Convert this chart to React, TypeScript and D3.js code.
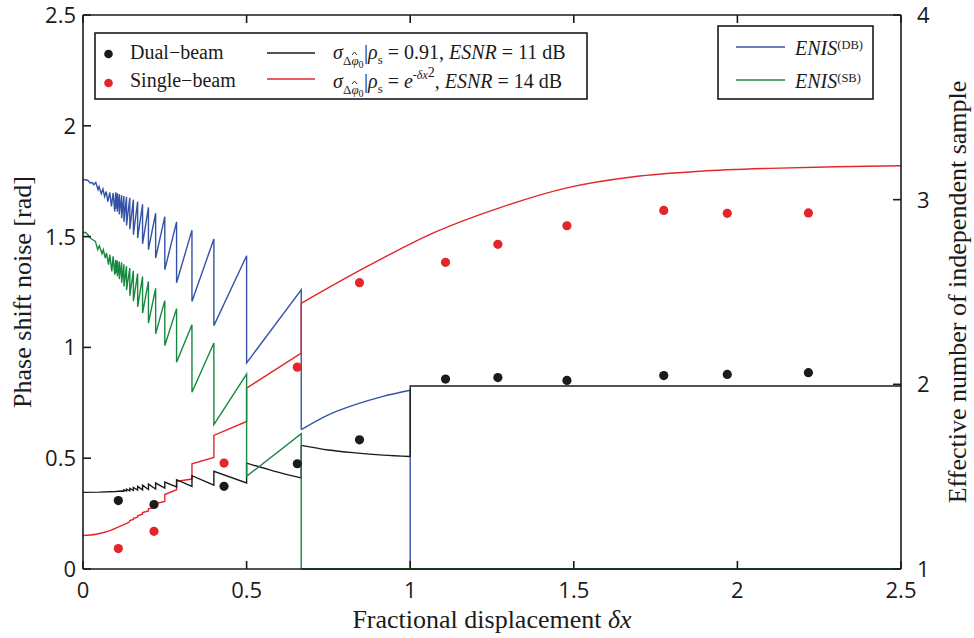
import React from "react";
import * as d3 from "d3";

// ---------- data ----------
const X_TICKS = [0, 0.5, 1, 1.5, 2, 2.5];
const X_TICK_LABELS = ["0", "0.5", "1", "1.5", "2", "2.5"];
const YL_TICKS = [0, 0.5, 1, 1.5, 2, 2.5];
const YL_TICK_LABELS = ["0", "0.5", "1", "1.5", "2", "2.5"];
const YR_TICKS = [1, 2, 3, 4];
const YR_TICK_LABELS = ["1", "2", "3", "4"];

// measured points (dots)
const DOT_X = [0.108, 0.217, 0.431, 0.655, 0.845, 1.108, 1.268, 1.479, 1.775, 1.969, 2.217];
const DUAL_DOTS = [0.309, 0.291, 0.373, 0.475, 0.583, 0.857, 0.864, 0.851, 0.873, 0.878, 0.886];
const SINGLE_DOTS = [0.092, 0.17, 0.478, 0.911, 1.292, 1.384, 1.465, 1.549, 1.618, 1.605, 1.607];

// theory, dual-beam (black), left axis
const BLACK_TEETH: [number, number][] = [
  [0, 0.346], [0.05, 0.347], [0.1, 0.35], [0.118, 0.352], [0.125, 0.351], [0.125, 0.357],
  [0.133, 0.352], [0.133, 0.36], [0.143, 0.353], [0.143, 0.364], [0.154, 0.355], [0.154, 0.368],
  [0.167, 0.356], [0.167, 0.373], [0.182, 0.357], [0.182, 0.378], [0.2, 0.359], [0.2, 0.383],
  [0.222, 0.361], [0.222, 0.388], [0.25, 0.365], [0.25, 0.392], [0.286, 0.37], [0.286, 0.403],
  [0.333, 0.373], [0.333, 0.421], [0.4, 0.378], [0.4, 0.441], [0.5, 0.388], [0.5, 0.478],
];
const BLACK_MID: [number, number][] = [[0.5, 0.478], [0.583, 0.442], [0.667, 0.411]];
const BLACK_JUMP: [number, number][] = [[0.667, 0.411], [0.667, 0.558]];
const BLACK_MID2: [number, number][] = [[0.667, 0.558], [0.75, 0.537], [0.832, 0.524], [0.917, 0.514], [1.0, 0.508]];
const BLACK_END: [number, number][] = [[1.0, 0.508], [1.0, 0.826], [2.5, 0.826]];

// theory, single-beam (red), left axis
const RED_LOW: [number, number][] = [[0, 0.151], [0.04, 0.157], [0.08, 0.172], [0.12, 0.197], [0.143, 0.213]];
const RED_STEPS: [number, number][] = [
  [0.143, 0.213], [0.143, 0.219], [0.154, 0.224], [0.154, 0.229], [0.167, 0.234], [0.167, 0.24],
  [0.182, 0.247], [0.182, 0.255], [0.2, 0.262], [0.2, 0.272], [0.222, 0.28], [0.222, 0.295],
  [0.25, 0.305], [0.25, 0.336], [0.286, 0.358], [0.286, 0.396], [0.333, 0.406], [0.333, 0.475],
  [0.4, 0.503], [0.4, 0.603], [0.5, 0.666], [0.5, 0.816], [0.667, 0.974], [0.667, 1.199],
];
const RED_HIGH: [number, number][] = [
  [0.667, 1.199], [0.867, 1.364], [1.071, 1.517], [1.275, 1.631], [1.479, 1.72],
  [1.683, 1.77], [1.887, 1.795], [2.1, 1.808], [2.3, 1.815], [2.5, 1.82],
];

// ENIS, right axis
const TOOTH_X = [0.1, 0.105, 0.111, 0.118, 0.125, 0.133, 0.143, 0.154, 0.167, 0.182, 0.2, 0.222, 0.25, 0.286, 0.333, 0.4, 0.5, 0.667];
const BLUE_PEAK = [3.04, 3.035, 3.03, 3.025, 3.02, 3.015, 3.01, 3.0, 2.99, 2.975, 2.958, 2.927, 2.908, 2.88, 2.835, 2.787, 2.696, 2.512];
const BLUE_TROUGH = [2.95, 2.935, 2.92, 2.9, 2.88, 2.86, 2.84, 2.81, 2.792, 2.761, 2.729, 2.684, 2.621, 2.55, 2.449, 2.318, 2.116, 1.755];
const GREEN_PEAK = [2.675, 2.67, 2.665, 2.66, 2.65, 2.64, 2.63, 2.615, 2.6, 2.584, 2.557, 2.52, 2.453, 2.41, 2.323, 2.224, 2.055, 1.733];
const GREEN_TROUGH = [2.6, 2.585, 2.57, 2.55, 2.53, 2.51, 2.48, 2.45, 2.42, 2.386, 2.332, 2.274, 2.21, 2.12, 1.957, 1.782, 1.502, 1.0];

const BLUE_NOISE: [number, number][] = [
  [0, 3.108], [0.008, 3.108], [0.015, 3.104], [0.022, 3.09], [0.028, 3.093], [0.033, 3.081],
  [0.039, 3.093], [0.046, 3.054], [0.049, 3.071], [0.056, 3.032], [0.061, 3.057], [0.066, 3.017],
  [0.071, 3.044], [0.076, 2.99], [0.082, 3.039], [0.087, 2.963], [0.092, 3.036], [0.097, 2.936],
];
const GREEN_NOISE: [number, number][] = [
  [0, 2.822], [0.008, 2.822], [0.015, 2.81], [0.022, 2.792], [0.03, 2.783], [0.038, 2.774],
  [0.045, 2.729], [0.05, 2.75], [0.058, 2.707], [0.062, 2.729], [0.068, 2.684], [0.072, 2.711],
  [0.078, 2.648], [0.082, 2.702], [0.088, 2.611], [0.092, 2.693], [0.097, 2.594],
];
const BLUE_TAIL: [number, number][] = [[0.667, 1.755], [0.75, 1.835], [0.832, 1.89], [0.917, 1.935], [1.0, 1.968]];
const BLUE_END: [number, number][] = [[1.0, 1.968], [1.0, 1.0], [2.5, 1.0]];
const GREEN_END: [number, number][] = [[0.667, 1.0], [2.5, 1.0]];

// ---------- layout ----------
const W = 974, H = 638;
const L = 83, R = 901, T = 15, B = 569;
const C_BLUE = "#3553a6", C_GREEN = "#16883f", C_RED = "#e3262a", C_BLACK = "#1b1b1b";
const SERIF = "'Liberation Serif', 'Times New Roman', serif";
const SANS = "'Open Sans', 'Noto Sans', sans-serif";

function teeth(noise: [number, number][], peak: number[], trough: number[]): [number, number][] {
  const pts: [number, number][] = [...noise];
  TOOTH_X.forEach((x, i) => {
    pts.push([x, peak[i]]);
    pts.push([x, trough[i]]);
  });
  return pts;
}

export default function App() {
  const x = d3.scaleLinear().domain([0, 2.5]).range([L, R]);
  const yL = d3.scaleLinear().domain([0, 2.5]).range([B, T]);
  const yR = d3.scaleLinear().domain([1, 4]).range([B, T]);

  const linL = d3.line<[number, number]>().x(d => x(d[0])).y(d => yL(d[1]));
  const smoothL = d3.line<[number, number]>().x(d => x(d[0])).y(d => yL(d[1])).curve(d3.curveMonotoneX);
  const linR = d3.line<[number, number]>().x(d => x(d[0])).y(d => yR(d[1]));
  const smoothR = d3.line<[number, number]>().x(d => x(d[0])).y(d => yR(d[1])).curve(d3.curveMonotoneX);

  const blue = teeth(BLUE_NOISE, BLUE_PEAK, BLUE_TROUGH);
  const green = teeth(GREEN_NOISE, GREEN_PEAK, GREEN_TROUGH);

  const lw = 1.4;
  const tick = 8;

  // sigma with subscript "Δφ̂0"; the hat is drawn as a small path
  const sigmaSub = (x0: number, yb: number) => (
    <>
      <text x={x0} y={yb} fontFamily={SERIF} fontSize={20} fontStyle="italic">σ</text>
      <text x={x0 + 10} y={yb + 6} fontFamily={SERIF} fontSize={13}>
        Δ<tspan fontStyle="italic">φ</tspan><tspan fontSize={10} y={yb + 9}>0</tspan>
      </text>
      <path
        d={`M${x0 + 19} ${yb - 4} L${x0 + 21.5} ${yb - 7} L${x0 + 24} ${yb - 4}`}
        fill="none" stroke="#1b1b1b" strokeWidth={0.9}
      />
    </>
  );

  return (
    <svg width={W} height={H} style={{ position: "fixed", left: 0, top: 0, background: "#fff" }}>
      <rect x={0} y={0} width={W} height={H} fill="#fff" />
      <defs>
        <clipPath id="plotclip">
          <rect x={L} y={T - 2} width={R - L} height={B - T + 3} />
        </clipPath>
      </defs>

      {/* curves */}
      <g clipPath="url(#plotclip)" fill="none" strokeWidth={lw} strokeLinejoin="miter">
        <path d={linR(blue)!} stroke={C_BLUE} />
        <path d={smoothR(BLUE_TAIL)!} stroke={C_BLUE} />
        <path d={linR(BLUE_END)!} stroke={C_BLUE} />
        <path d={smoothL(RED_LOW)!} stroke={C_RED} />
        <path d={linL(RED_STEPS)!} stroke={C_RED} />
        <path d={smoothL(RED_HIGH)!} stroke={C_RED} />
        <path d={linL(BLACK_TEETH)!} stroke={C_BLACK} />
        <path d={smoothL(BLACK_MID)!} stroke={C_BLACK} />
        <path d={linL(BLACK_JUMP)!} stroke={C_BLACK} />
        <path d={smoothL(BLACK_MID2)!} stroke={C_BLACK} />
        <path d={linL(BLACK_END)!} stroke={C_BLACK} />
        <path d={linR(green)!} stroke={C_GREEN} />
        <path d={linR(GREEN_END)!} stroke={C_GREEN} strokeWidth={2} />
      </g>

      {/* dots */}
      {DOT_X.map((dx, i) => (
        <circle key={"d" + i} cx={x(dx)} cy={yL(DUAL_DOTS[i])} r={4.6} fill={C_BLACK} />
      ))}
      {DOT_X.map((dx, i) => (
        <circle key={"s" + i} cx={x(dx)} cy={yL(SINGLE_DOTS[i])} r={4.6} fill={C_RED} />
      ))}

      {/* axes frame */}
      <g stroke="#1b1b1b" strokeWidth={1.6} fill="none">
        <line x1={L} y1={T} x2={L} y2={B} />
        <line x1={L} y1={B} x2={R} y2={B} />
        <line x1={L} y1={T} x2={R} y2={T} />
        <line x1={R} y1={T} x2={R} y2={B} />
        {X_TICKS.map(t => (
          <g key={"xt" + t}>
            <line x1={x(t)} y1={B} x2={x(t)} y2={B - tick} />
            <line x1={x(t)} y1={T} x2={x(t)} y2={T + tick} />
          </g>
        ))}
        {YL_TICKS.map(t => (
          <line key={"yl" + t} x1={L} y1={yL(t)} x2={L + tick} y2={yL(t)} />
        ))}
        {YR_TICKS.map(t => (
          <line key={"yr" + t} x1={R} y1={yR(t)} x2={R - tick} y2={yR(t)} />
        ))}
      </g>

      {/* tick labels */}
      <g fontFamily={SANS} fontSize={22} fill="#1b1b1b">
        {X_TICKS.map((t, i) => (
          <text key={"xl" + t} x={x(t)} y={598} textAnchor="middle">{X_TICK_LABELS[i]}</text>
        ))}
        {YL_TICKS.map((t, i) => (
          <text key={"yll" + t} x={76} y={yL(t) + 8} textAnchor="end">{YL_TICK_LABELS[i]}</text>
        ))}
        {YR_TICKS.map((t, i) => (
          <text key={"yrl" + t} x={917} y={yR(t) + 8} textAnchor="start">{YR_TICK_LABELS[i]}</text>
        ))}
      </g>

      {/* axis titles */}
      <text x={(L + R) / 2} y={628} textAnchor="middle" fontFamily={SERIF} fontSize={26} fill="#1b1b1b">
        Fractional displacement <tspan fontStyle="italic">δx</tspan>
      </text>
      <text transform={`translate(31,${(T + B) / 2}) rotate(-90)`} textAnchor="middle" fontFamily={SERIF} fontSize={26} fill="#1b1b1b">
        Phase shift noise [rad]
      </text>
      <text transform={`translate(966,${(T + B) / 2}) rotate(-90)`} textAnchor="middle" fontFamily={SERIF} fontSize={26} fill="#1b1b1b">
        Effective number of independent sample
      </text>

      {/* left legend */}
      <rect x={95} y={33} width={492} height={66} fill="#fff" stroke="#1b1b1b" strokeWidth={1.6} />
      <circle cx={108.5} cy={54} r={4.3} fill={C_BLACK} />
      <circle cx={108.5} cy={83} r={4.3} fill={C_RED} />
      <text x={130} y={59} fontFamily={SERIF} fontSize={20} fill="#1b1b1b">Dual−beam</text>
      <text x={130} y={87} fontFamily={SERIF} fontSize={20} fill="#1b1b1b">Single−beam</text>
      <line x1={267} x2={315} y1={53} y2={53} stroke={C_BLACK} strokeWidth={lw} />
      <line x1={267} x2={315} y1={79} y2={79} stroke={C_RED} strokeWidth={lw} />
      <g fill="#1b1b1b">
        {sigmaSub(333, 59)}
        <text x={364} y={59} fontFamily={SERIF} fontSize={20}>
          |<tspan fontStyle="italic">ρ</tspan><tspan fontSize={13} y={64}>s</tspan>
          <tspan y={59}> = 0.91, </tspan><tspan fontStyle="italic">ESNR</tspan><tspan> = 11 dB</tspan>
        </text>
        {sigmaSub(333, 88)}
        <text x={364} y={88} fontFamily={SERIF} fontSize={20}>
          |<tspan fontStyle="italic">ρ</tspan><tspan fontSize={13} y={93}>s</tspan>
          <tspan y={88}> = </tspan><tspan fontStyle="italic">e</tspan>
          <tspan fontSize={12} y={79}>-</tspan><tspan fontSize={12} fontStyle="italic">δx</tspan>
          <tspan fontSize={14} y={77}>2</tspan>
          <tspan y={88}>, </tspan><tspan fontStyle="italic">ESNR</tspan><tspan> = 14 dB</tspan>
        </text>
      </g>

      {/* right legend */}
      <rect x={718} y={26} width={155} height={73} fill="#fff" stroke="#1b1b1b" strokeWidth={1.6} />
      <line x1={736} x2={785} y1={47} y2={47} stroke={C_BLUE} strokeWidth={lw} />
      <line x1={736} x2={785} y1={80} y2={80} stroke={C_GREEN} strokeWidth={lw} />
      <text x={795} y={55} fontFamily={SERIF} fontSize={20} fill="#1b1b1b">
        <tspan fontStyle="italic">ENIS</tspan><tspan fontSize={12.5} y={49}>(DB)</tspan>
      </text>
      <text x={795} y={88} fontFamily={SERIF} fontSize={20} fill="#1b1b1b">
        <tspan fontStyle="italic">ENIS</tspan><tspan fontSize={12.5} y={82}>(SB)</tspan>
      </text>
    </svg>
  );
}
